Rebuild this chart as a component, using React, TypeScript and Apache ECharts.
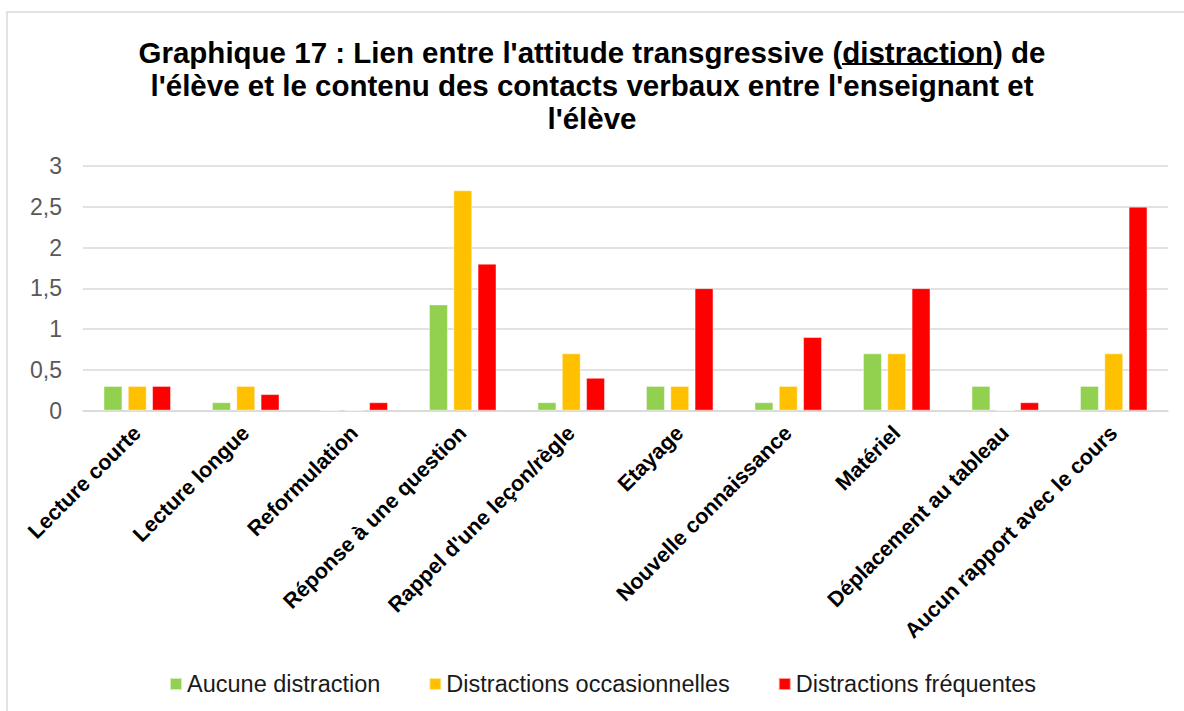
import React, { useEffect, useRef } from "react";
import * as echarts from "echarts";

const categories = [
  "Lecture courte",
  "Lecture longue",
  "Reformulation",
  "Réponse à une question",
  "Rappel d'une leçon/règle",
  "Etayage",
  "Nouvelle connaissance",
  "Matériel",
  "Déplacement au tableau",
  "Aucun rapport avec le cours",
];
const seriesNames = ["Aucune distraction", "Distractions occasionnelles", "Distractions fréquentes"];
const aucune = [0.3, 0.1, 0, 1.3, 0.1, 0.3, 0.1, 0.7, 0.3, 0.3];
const occasionnelles = [0.3, 0.3, 0, 2.7, 0.7, 0.3, 0.3, 0.7, 0, 0.7];
const frequentes = [0.3, 0.2, 0.1, 1.8, 0.4, 1.5, 0.9, 1.5, 0.1, 2.5];
const colors = ["#92D050", "#FFC000", "#FF0000"];
const titleText =
  "Graphique 17 : Lien entre l'attitude transgressive (distraction) de\nl'élève et le contenu des contacts verbaux entre l'enseignant et\nl'élève";

const FONT = "'Liberation Sans', Arial, sans-serif";

export default function App() {
  const ref = useRef<HTMLDivElement>(null);
  useEffect(() => {
    if (!ref.current) return;
    const chart = echarts.init(ref.current, null, { renderer: "svg" });
    const data = [aucune, occasionnelles, frequentes];
    chart.setOption({
      animation: false,
      backgroundColor: "#ffffff",
      title: {
        text: titleText,
        left: "center",
        top: 31,
        textStyle: {
          fontFamily: FONT,
          fontSize: 29.5,
          fontWeight: "bold",
          color: "#000",
          lineHeight: 33,
        },
      },
      graphic: [
        {
          type: "rect",
          shape: { x: 7, y: 12, width: 1200, height: 720 },
          style: { fill: "none", stroke: "#d9d9d9", lineWidth: 1.5 },
          silent: true,
        },
        {
          type: "line",
          shape: { x1: 842, y1: 64, x2: 993, y2: 64 },
          style: { stroke: "#000", lineWidth: 2 },
          silent: true,
        },
      ],
      legend: {
        left: 164,
        top: 667,
        itemWidth: 12,
        itemHeight: 12,
        itemGap: 48,
        icon: "rect",
        textStyle: { fontFamily: FONT, fontSize: 23.5, color: "#1a1a1a" },
        data: seriesNames,
      },
      grid: { left: 83, right: 16, top: 166, bottom: 300.5, containLabel: false },
      xAxis: {
        type: "category",
        data: categories,
        axisLine: { show: true, lineStyle: { color: "#d9d9d9", width: 1.5 } },
        axisTick: { show: false },
        axisLabel: {
          interval: 0,
          rotate: 45,
          margin: 19,
          fontFamily: FONT,
          fontSize: 21.5,
          fontWeight: "bold",
          color: "#000",
        },
      },
      yAxis: {
        type: "value",
        min: 0,
        max: 3,
        interval: 0.5,
        axisLine: { show: false },
        axisTick: { show: false },
        splitLine: { lineStyle: { color: "#d9d9d9", width: 1.5 } },
        axisLabel: {
          margin: 21,
          fontFamily: FONT,
          fontSize: 23,
          color: "#595959",
          formatter: (v: number) => String(v).replace(".", ","),
        },
      },
      series: seriesNames.map((name, i) => ({
        name,
        type: "bar",
        data: data[i],
        barGap: "30%",
        barCategoryGap: "38%",
        itemStyle: { color: colors[i], borderColor: "rgba(255,255,255,0.6)", borderWidth: 0.75 },
      })),
    });
    return () => chart.dispose();
  }, []);
  return <div ref={ref} style={{ width: 1184, height: 711, position: "absolute", left: 0, top: 0 }} />;
}
